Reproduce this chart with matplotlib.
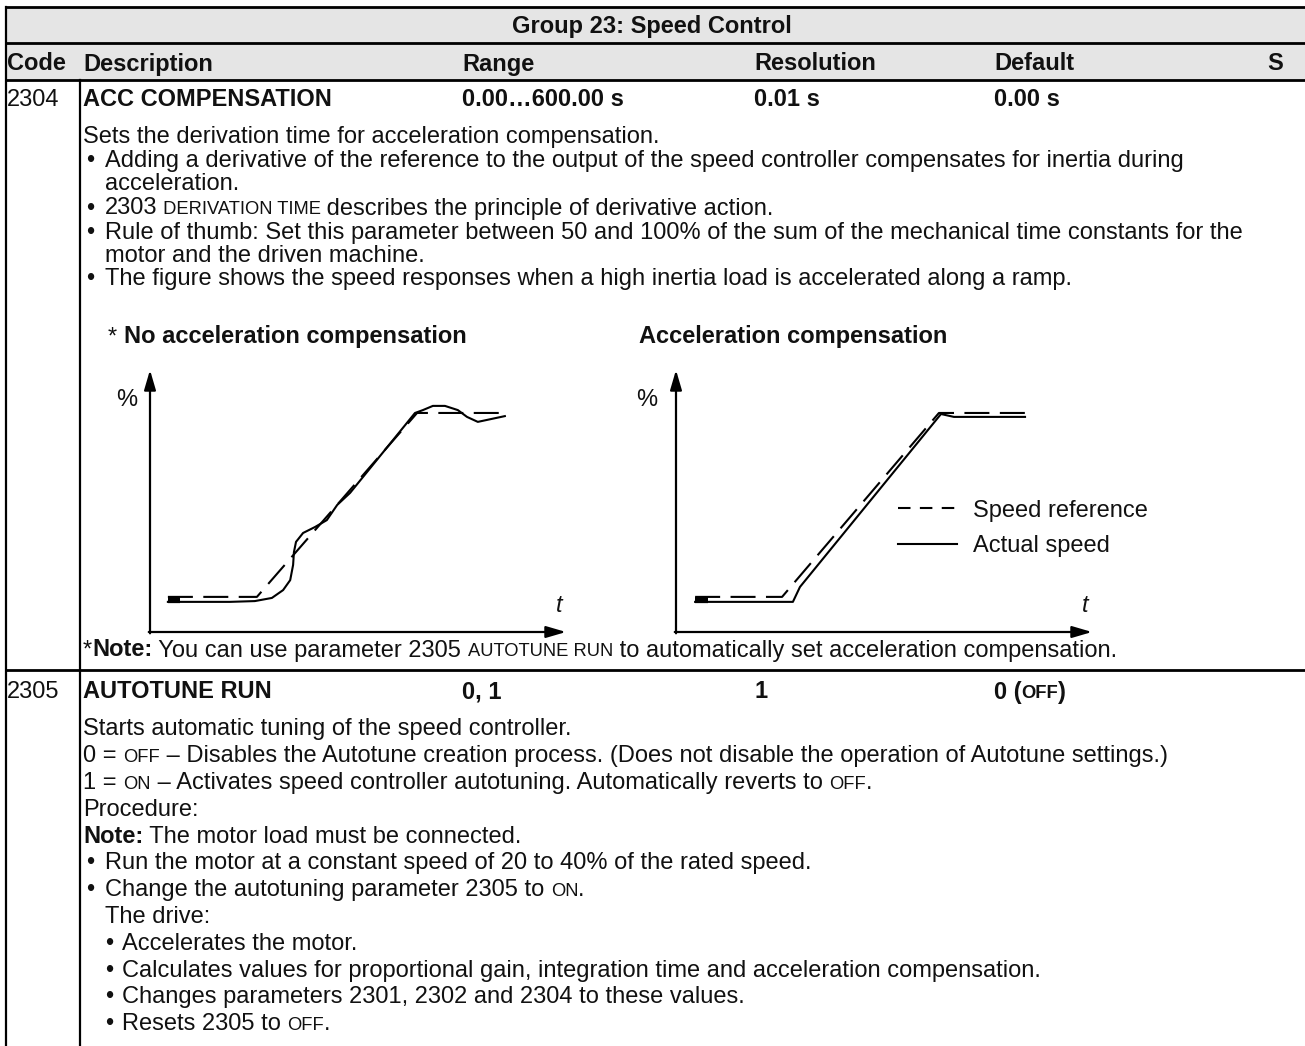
import matplotlib
matplotlib.use("Agg")
import matplotlib.pyplot as plt
from matplotlib.lines import Line2D

# ---------------- data ----------------
header_title = "Group 23: Speed Control"
columns = ["Code", "Description", "Range", "Resolution", "Default", "S"]
row2304 = ["2304", "ACC COMPENSATION", "0.00…600.00 s", "0.01 s", "0.00 s"]
row2305 = ["2305", "AUTOTUNE RUN", "0, 1", "1", "0 ("]

chart_titles = ["No acceleration compensation", "Acceleration compensation"]
legend_labels = ["Speed reference", "Actual speed"]

# left chart (no acceleration compensation), time in % of axis, value in %
left_ref_t = [4.3, 25.7, 64.2, 84.6]
left_ref_v = [13.4, 13.4, 83.6, 83.6]
left_act_t = [4.3, 19.2, 25.2, 29.3, 32.0, 33.7, 34.4, 34.6, 35.1, 36.8, 39.7,
              42.5, 45.0, 48.1, 63.7, 65.6, 68.0, 70.9, 74.0, 76.2, 78.8, 85.3]
left_act_v = [11.5, 11.5, 11.8, 13.0, 16.0, 19.8, 25.6, 30.5, 34.4, 37.8, 40.1,
              42.7, 48.5, 53.1, 83.6, 84.7, 86.3, 86.3, 84.7, 82.1, 80.2, 82.4]
# right chart (acceleration compensation)
right_ref_t = [4.6, 25.5, 63.2, 84.4]
right_ref_v = [13.4, 13.4, 83.6, 83.6]
right_act_t = [4.6, 28.1, 29.8, 63.7, 66.8, 83.9]
right_act_v = [11.5, 11.5, 17.2, 83.2, 82.1, 82.1]
start_block_t = [0.0, 3.0]
start_block_v = [12.4, 12.4]

# ---------------- figure ----------------
W, H, DPI = 1305, 1046, 100
fig = plt.figure(figsize=(W / DPI, H / DPI), dpi=DPI)
ax = fig.add_axes([0, 0, 1, 1])
ax.set_xlim(0, W)
ax.set_ylim(H, 0)
ax.axis("off")
renderer = fig.canvas.get_renderer()

FAM = ["Liberation Sans", "DejaVu Sans"]
FS = 17.0
SC = 0.78
BASE = 8.5
INK = "#111111"


def rich(x, y, parts, fs=FS):
    for s, kind in parts:
        size = fs * SC if "c" in kind else fs
        weight = "bold" if "b" in kind else "normal"
        style = "italic" if "i" in kind else "normal"
        t = ax.text(x, y + BASE, s, fontsize=size, fontweight=weight,
                    fontstyle=style, family=FAM, va="baseline", ha="left",
                    color=INK)
        x += t.get_window_extent(renderer).width
    return x


# table frame
LEFT, DIV = 6, 80
ax.fill_between([LEFT, W], 7, 80, color="#e5e5e5", lw=0, zorder=0)
for yy in (7, 43, 80, 670):
    ax.plot([LEFT, W], [yy, yy], color="k", lw=2.0, solid_capstyle="butt")
ax.plot([LEFT, LEFT], [7, H], color="k", lw=1.6)
ax.plot([DIV, DIV], [80, H], color="k", lw=1.6)

ax.text(652, 25 + BASE, header_title, fontsize=FS, fontweight="bold",
        family=FAM, ha="center", va="baseline", color=INK)
col_x = [7, 83, 462, 754, 994, 1267]
for cx, c in zip(col_x, columns):
    rich(cx, 62, [(c, "b")])

# row 2304
rich(col_x[0], 98, [(row2304[0], "r")])
for cx, c in zip(col_x[1:], row2304[1:]):
    rich(cx, 98, [(c, "b")])

TX, BX, BT = 83, 86, 105
rich(TX, 135, [("Sets the derivation time for acceleration compensation.", "r")])
bul = [
    (158, [("Adding a derivative of the reference to the output of the speed controller compensates for inertia during", "r")]),
    (206, [("2303", "r"), (" DERIVATION TIME", "c"), (" describes the principle of derivative action.", "r")]),
    (230, [("Rule of thumb: Set this parameter between 50 and 100% of the sum of the mechanical time constants for the", "r")]),
    (277, [("The figure shows the speed responses when a high inertia load is accelerated along a ramp.", "r")]),
]
for yy, parts in bul:
    rich(BX, yy, [("•", "r")])
    rich(BT, yy, parts)
rich(BT, 182, [("acceleration.", "r")])
rich(BT, 253, [("motor and the driven machine.", "r")])

# chart titles
rich(108, 335, [("* ", "r"), (chart_titles[0], "b")])
rich(639, 335, [(chart_titles[1], "b")])

rich(TX, 648, [("*", "r"), ("Note:", "b"), (" You can use parameter 2305 ", "r"),
               ("AUTOTUNE RUN", "c"), (" to automatically set acceleration compensation.", "r")])

# row 2305
rich(col_x[0], 690, [(row2305[0], "r")])
rich(col_x[1], 690, [(row2305[1], "b")])
rich(col_x[2], 690, [(row2305[2], "b")])
rich(col_x[3], 690, [(row2305[3], "b")])
rich(col_x[4], 690, [(row2305[4], "b"), ("OFF", "bc"), (")", "b")])

y0, dy = 727, 26.8
lines2305 = [
    (TX, None, [("Starts automatic tuning of the speed controller.", "r")]),
    (TX, None, [("0 = ", "r"), ("OFF", "c"), (" – Disables the Autotune creation process. (Does not disable the operation of Autotune settings.)", "r")]),
    (TX, None, [("1 = ", "r"), ("ON", "c"), (" – Activates speed controller autotuning. Automatically reverts to ", "r"), ("OFF", "c"), (".", "r")]),
    (TX, None, [("Procedure:", "r")]),
    (TX, None, [("Note:", "b"), (" The motor load must be connected.", "r")]),
    (BT, BX, [("Run the motor at a constant speed of 20 to 40% of the rated speed.", "r")]),
    (BT, BX, [("Change the autotuning parameter 2305 to ", "r"), ("ON", "c"), (".", "r")]),
    (BT, None, [("The drive:", "r")]),
    (122, 105, [("Accelerates the motor.", "r")]),
    (122, 105, [("Calculates values for proportional gain, integration time and acceleration compensation.", "r")]),
    (122, 105, [("Changes parameters 2301, 2302 and 2304 to these values.", "r")]),
    (122, 105, [("Resets 2305 to ", "r"), ("OFF", "c"), (".", "r")]),
]
for i, (tx, bx, parts) in enumerate(lines2305):
    yy = y0 + i * dy
    if bx is not None:
        rich(bx, yy, [("•", "r")])
    rich(tx, yy, parts)


# ---------------- charts ----------------
def pix_rect(x0, ytop, x1, ybot):
    return [x0 / W, 1 - ybot / H, (x1 - x0) / W, (ybot - ytop) / H]


def draw_chart(rect, ref_t, ref_v, act_t, act_v, pct_dx, legend=False):
    a = fig.add_axes(rect)
    a.set_xlim(0, 100)
    a.set_ylim(0, 100)
    a.axis("off")
    arrow = dict(arrowstyle="-|>,head_length=0.75,head_width=0.22",
                 lw=1.6, color="k", shrinkA=0, shrinkB=0, mutation_scale=16)
    a.annotate("", xy=(0, 100), xytext=(0, -0.5), arrowprops=arrow,
               annotation_clip=False)
    a.annotate("", xy=(100, 0), xytext=(-0.3, 0), arrowprops=arrow,
               annotation_clip=False)
    a.plot(ref_t, ref_v, color="k", lw=1.5, ls=(0, (12, 5)), clip_on=False)
    a.plot(act_t, act_v, color="k", lw=1.5, clip_on=False,
           solid_joinstyle="round")
    a.plot([ref_t[0] + s for s in start_block_t], start_block_v, color="k",
           lw=4.5, solid_capstyle="butt")
    a.text(pct_dx, 88.5, "%", fontsize=FS, family=FAM, ha="left",
           va="center", color=INK)
    a.text(97.5, 10.3, "t", fontsize=FS, family=FAM, fontstyle="italic",
           ha="left", va="center", color=INK)
    if legend:
        handles = [Line2D([], [], color="k", lw=1.5, ls=(0, (6, 4.5))),
                   Line2D([], [], color="k", lw=1.5)]
        a.legend(handles, legend_labels, loc="upper left",
                 bbox_to_anchor=(0.534, 0.505), frameon=False,
                 prop={"family": FAM, "size": FS}, handlelength=2.5,
                 handletextpad=0.65, labelspacing=0.57, borderpad=0,
                 borderaxespad=0, labelcolor=INK)
    return a


draw_chart(pix_rect(150, 370, 566, 632), left_ref_t, left_ref_v,
           left_act_t, left_act_v, -8.2)
draw_chart(pix_rect(676, 370, 1092, 632), right_ref_t, right_ref_v,
           right_act_t, right_act_v, -9.6, legend=True)

fig.savefig("out.png", dpi=DPI)
